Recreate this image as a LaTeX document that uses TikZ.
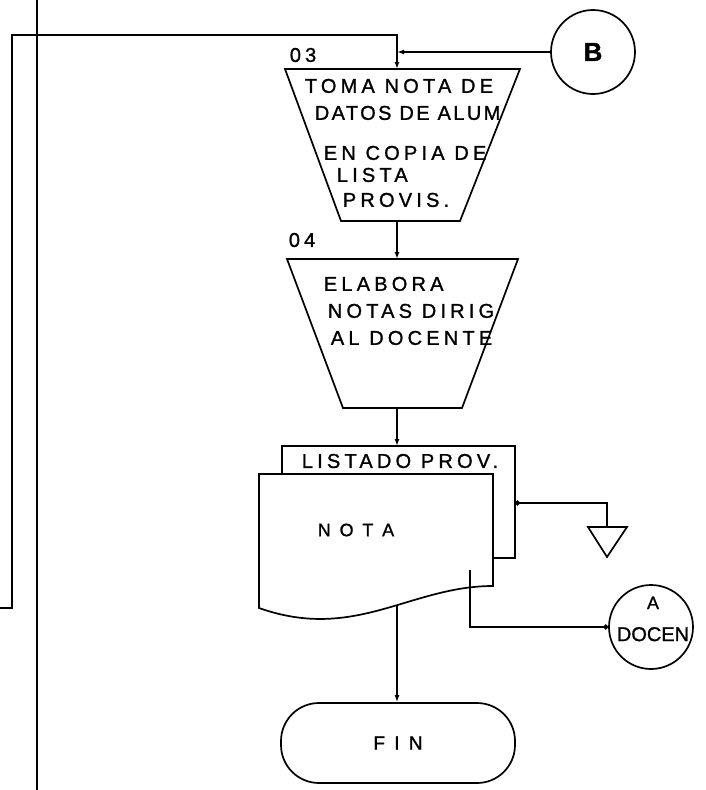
\documentclass[tikz,border=0pt]{standalone}
\usepackage{fontspec}
\newfontfamily\stencil{Liberation Sans}[LetterSpace=21, FakeBold=1.2]
\newfontfamily\tightsans{Liberation Sans}[FakeBold=1.2]
\usepackage{tikz}
\usetikzlibrary{
  arrows.meta,
  positioning,
  shapes.geometric,
  calc
}

\begin{document}
\begin{tikzpicture}[
  x=1pt, y=-1pt,
  line width=1.7pt,
  txt/.style={font=\stencil\fontsize{20}{22}\selectfont, inner sep=0pt},
  conn/.style={circle, draw, inner sep=0pt, minimum size=84pt},
  term/.style={draw, rounded corners=38pt, minimum width=234pt,
               minimum height=80pt, inner sep=0pt},
  flow/.style={-{Latex[length=7pt,width=5pt]}},
  tap/.style={{Circle[length=5pt]}-}
]
\useasboundingbox (0,0) rectangle (706,790);

% spine of the main flow
\coordinate (spine) at (397,0);

% trunk line at the left
\coordinate (trunktop) at (37,0);
\coordinate (trunkbot) at (37,790);
\draw (trunktop) -- (trunkbot);

% operation 03
\coordinate (t03top) at (397,69);
\coordinate (t03bot) at (397,221);
\draw (285,69) -- (520,69) -- (460,221) -- (341,221) -- cycle;
\node[txt, anchor=west] (n03) at (289,55) {03};
\node[txt, align=left, anchor=north west] (x03) at (304,78) {TOMA NOTA DE\\[5pt]
  \hspace*{10pt}{\addfontfeatures{LetterSpace=12}DATOS DE ALUM}\\[18pt]
  \hspace*{19pt}EN COPIA DE\\
  \hspace*{32pt}LISTA\\[3pt]
  \hspace*{38pt}PROVIS.};

% operation 04
\coordinate (t04top) at (397,259);
\coordinate (t04bot) at (397,408);
\draw (287,259) -- (518,259) -- (462,408) -- (343,408) -- cycle;
\node[txt, anchor=west] (n04) at (288,240) {04};
\node[txt, align=left, anchor=north west] (x04) at (323,276) {ELABORA\\[5pt]
  \hspace*{4pt}NOTAS DIRIG\\[5pt]
  \hspace*{7pt}AL DOCENTE};

% documents
\coordinate (bktl) at (282,446);
\coordinate (bktr) at (515,446);
\coordinate (fdtl) at (259,474);
\coordinate (fdtr) at (493,474);
\draw (282,473) -- (bktl) -- (bktr) -- (515,558) -- (493,558);
\draw (fdtl) -- (fdtr) -- (493,586)
  .. controls (410,586) and (355,642) .. (259,608) -- cycle;
\node[txt] (lst) at (400,461) {LISTADO PROV.};
\node[txt, font=\stencil\fontsize{18}{20}\selectfont] (nota) at (356,530) {N O T A};
\coordinate (wave) at (397,605);

% archive
\coordinate (arch) at (607,527);
\draw (588,527) -- (627,527) -- (607,557) -- cycle;

% connectors
\node[conn] (B) at (593,52) {\stencil\bfseries\fontsize{26}{30}\selectfont B};
\node[conn] (adocen) at (651,627) {};
\node[font=\tightsans\fontsize{20}{32}\selectfont, align=center, inner sep=0pt]
  (xdocen) at (653,619) {{\fontsize{18}{32}\selectfont A}\\DOCEN};

\node[term, font=\stencil\fontsize{19}{22}\selectfont] (fin) at (398,743) {F I N};

% flow lines
\coordinate (loopin) at (0,608);
\coordinate (loopcorner) at (12,35);
\draw[flow] (loopin) -| (loopcorner) -| (t03top);
\draw[flow] (B.west) -- (B.west -| spine);
\draw[flow] (t03bot) -- (t04top);
\draw[flow] (t04bot) -- (bktl -| spine);
\draw[tap] (515,503) -| (arch);
\draw[-{Circle[length=5pt]}] (470,570) |- (adocen.west);
\draw[flow] (wave) -- (fin.north -| spine);

\end{tikzpicture}
\end{document}
